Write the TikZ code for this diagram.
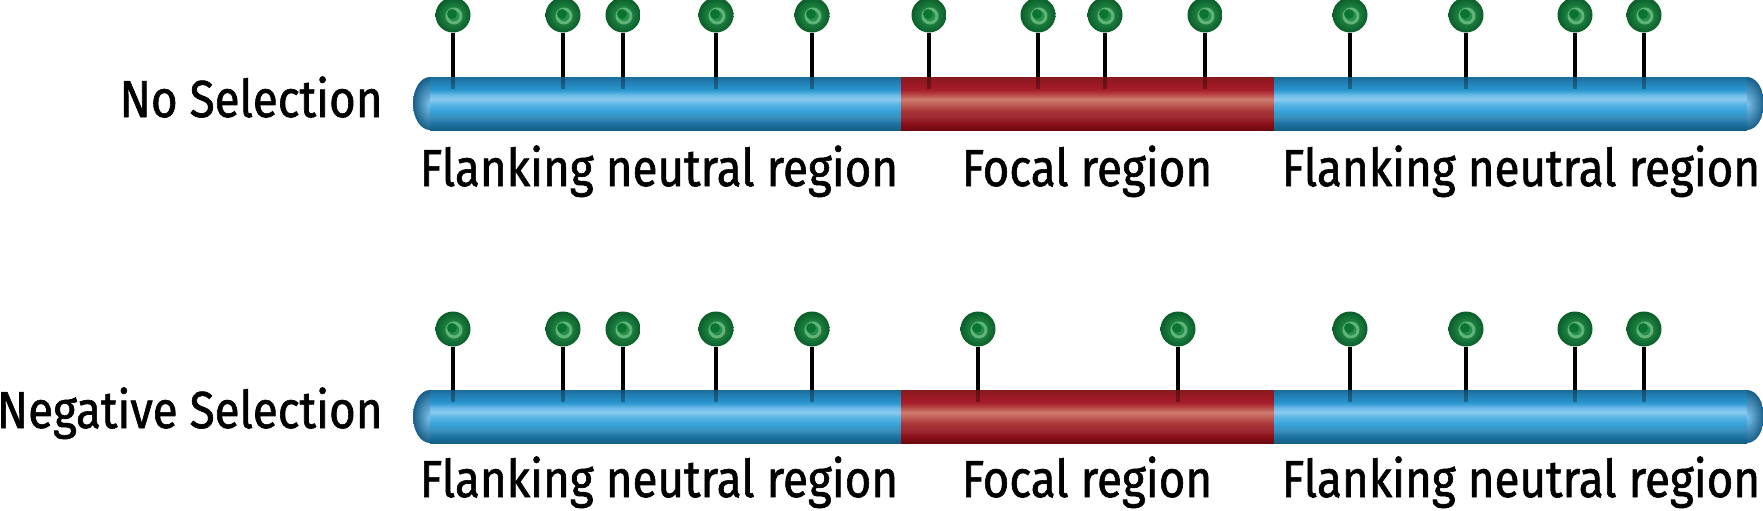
\documentclass[tikz,border=0pt]{standalone}
\usepackage{fontspec}
\setmainfont{Fira Sans}[FakeStretch=0.88, FakeBold=1.2]
\usepackage{tikz}
\usetikzlibrary{positioning}

\definecolor{bA}{HTML}{165F86}
\definecolor{bB}{HTML}{1B72A0}
\definecolor{bC}{HTML}{3A8FBC}
\definecolor{bD}{HTML}{36A3DA}
\definecolor{bE}{HTML}{5DB7E6}
\definecolor{bF}{HTML}{8CCBEF}
\definecolor{bG}{HTML}{6DBBE8}
\definecolor{bH}{HTML}{2A96CE}
\definecolor{bI}{HTML}{2283BA}
\definecolor{bJ}{HTML}{1B6C98}
\definecolor{rA}{HTML}{6C0910}
\definecolor{rB}{HTML}{8A0F1A}
\definecolor{rC}{HTML}{9D2A31}
\definecolor{rD}{HTML}{A93538}
\definecolor{rE}{HTML}{C2625A}
\definecolor{rF}{HTML}{CF7C70}
\definecolor{rG}{HTML}{BB4D4B}
\definecolor{rH}{HTML}{A61E2B}
\definecolor{rI}{HTML}{9B1823}
\definecolor{rJ}{HTML}{861A20}
\definecolor{capLight}{HTML}{7CC3EC}
\definecolor{capDark}{HTML}{175F88}
\definecolor{headLight}{HTML}{2FA057}
\definecolor{headDark}{HTML}{0A5E29}
\definecolor{headRing}{HTML}{7CC98E}
\definecolor{headSpot}{HTML}{0C7433}

\pgfdeclareverticalshading{bluetube}{100bp}{color(0bp)=(bA); color(25bp)=(bA); color(31bp)=(bB);
  color(37bp)=(bC); color(43bp)=(bD); color(50bp)=(bE); color(54bp)=(bF); color(58bp)=(bG);
  color(63bp)=(bH); color(69bp)=(bI); color(75bp)=(bJ); color(100bp)=(bJ)}
\pgfdeclareverticalshading{redtube}{100bp}{color(0bp)=(rA); color(25bp)=(rA); color(31bp)=(rB);
  color(37bp)=(rC); color(43bp)=(rD); color(50bp)=(rE); color(54bp)=(rF); color(58bp)=(rG);
  color(63bp)=(rH); color(69bp)=(rI); color(75bp)=(rJ); color(100bp)=(rJ)}

\begin{document}
\begin{tikzpicture}[
    x=0.5pt, y=-0.5pt,
    rowlabel/.style={font=\fontsize{26}{30}\selectfont, inner sep=0pt},
    regionlabel/.style={font=\fontsize{26}{30}\selectfont, inner sep=0pt, anchor=base},
    pinhead/.style={circle, minimum size=17.5pt, inner sep=0pt, inner color=headLight, outer color=headDark, shade},
    pinring/.style={draw=headRing, line width=1.5pt, opacity=0.7},
    pinspot/.style={fill=headSpot},
    pinstick/.style={line width=2pt, black},
    pinfade/.style={line width=2pt, black, opacity=0.3}
]
\useasboundingbox (0,0) rectangle (1763,510);

% No Selection
\node[rowlabel, anchor=base east] (nosel) at (383,117) {No Selection};
\shade[inner color=capLight, outer color=capDark] (430,103.5) ellipse [x radius=17, y radius=26.5];
\shade[inner color=capLight, outer color=capDark] (1747,103.5) ellipse [x radius=17, y radius=26.5];
\shade[shading=bluetube] (430,77) rectangle (901,130);
\shade[shading=redtube] (901,77) rectangle (1274,130);
\shade[shading=bluetube] (1274,77) rectangle (1747,130);
\foreach \i/\x in {1/453, 2/563, 3/623, 4/716, 5/812, 6/929, 7/1038, 8/1105, 9/1205, 10/1350, 11/1466, 12/1575, 13/1644} {
  \node[pinhead] (nh\i) at (\x,15) {};
  \draw[pinring] ([shift={(1,1)}]nh\i.center) circle [radius=7];
  \fill[pinspot] ([shift={(-1,-1)}]nh\i.center) circle [radius=5];
  \coordinate (nb\i) at (\x,77);
  \draw[pinstick] (nh\i.south) -- (nb\i);
  \draw[pinfade] (nb\i) -- ++(0,12);
}
\node[regionlabel] (noflankl) at (659,186) {Flanking neutral region};
\node[regionlabel] (nofocal) at (1087,186) {Focal region};
\node[regionlabel] (noflankr) at (1521,186) {Flanking neutral region};

% Negative Selection
\node[rowlabel, anchor=base east] (negsel) at (383,428) {Negative Selection};
\shade[inner color=capLight, outer color=capDark] (430,416.5) ellipse [x radius=17, y radius=26.5];
\shade[inner color=capLight, outer color=capDark] (1747,416.5) ellipse [x radius=17, y radius=26.5];
\shade[shading=bluetube] (430,390) rectangle (901,443);
\shade[shading=redtube] (901,390) rectangle (1274,443);
\shade[shading=bluetube] (1274,390) rectangle (1747,443);
\foreach \i/\x in {1/453, 2/563, 3/623, 4/716, 5/812, 6/978, 7/1178, 8/1350, 9/1466, 10/1575, 11/1644} {
  \node[pinhead] (gh\i) at (\x,329) {};
  \draw[pinring] ([shift={(1,1)}]gh\i.center) circle [radius=7];
  \fill[pinspot] ([shift={(-1,-1)}]gh\i.center) circle [radius=5];
  \coordinate (gb\i) at (\x,390);
  \draw[pinstick] (gh\i.south) -- (gb\i);
  \draw[pinfade] (gb\i) -- ++(0,12);
}
\node[regionlabel] (negflankl) at (659,497) {Flanking neutral region};
\node[regionlabel] (negfocal) at (1087,497) {Focal region};
\node[regionlabel] (negflankr) at (1521,497) {Flanking neutral region};

\end{tikzpicture}
\end{document}
